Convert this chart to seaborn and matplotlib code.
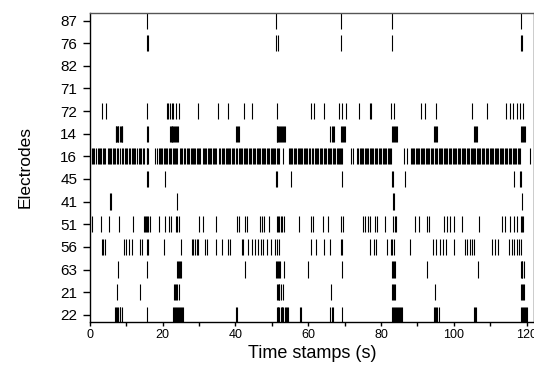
import numpy as np
import pandas as pd
import matplotlib
matplotlib.use('Agg')
import matplotlib.pyplot as plt
import seaborn as sns
from matplotlib.ticker import MultipleLocator

# eletrodos de cima para baixo
eletrodos = ['87', '76', '82', '71', '72', '14', '16', '45', '41', '51', '56', '63', '21', '22']

# tempos dos disparos (s)
e87 = [15.8, 51.1, 69.1, 83.0, 118.3]
e76 = [15.7, 16.0, 51.2, 51.7, 69.1, 83.0, 118.4, 118.6]
e82 = []
e71 = []
e72 = [3.4, 4.6, 15.8, 21.1, 21.6, 22.0, 22.5, 22.9, 23.6, 24.5, 29.8, 35.1, 37.9,
       42.4, 44.6, 51.3, 60.7, 61.5, 64.2, 68.4, 69.3, 70.3, 74.0, 77.0, 77.3, 82.6,
       83.5, 91.0, 92.2, 95.0, 105.0, 109.1, 114.4, 115.3, 116.2, 117.4, 118.2, 119.1]
e14 = [7.1, 7.3, 7.5, 7.7, 7.9, 8.4, 8.6, 8.8, 9.0, 15.7, 15.9,
       22.0, 22.2, 22.5, 22.7, 23.0, 23.2, 23.5, 23.7, 24.0, 24.2,
       40.1, 40.4, 40.7, 40.9,
       51.3, 51.5, 51.8, 52.0, 52.3, 52.5, 52.8, 53.0, 53.3, 53.5,
       66.1, 66.4, 66.7, 67.0, 69.0, 69.3, 69.6, 69.9, 70.1,
       83.0, 83.3, 83.6, 83.9, 84.2, 84.4, 94.6, 94.9, 95.2, 95.5,
       105.5, 105.8, 106.1, 106.4, 118.3, 118.6, 118.9, 119.2, 119.5]
e16 = [0.2, 0.6, 0.9, 1.3, 1.6, 2.2, 2.5, 2.8, 3.2, 3.6, 3.9, 4.3, 4.9, 5.2, 5.5,
       5.9, 6.3, 6.6, 7.0, 7.6, 7.9, 8.2, 8.9, 9.2, 9.6, 9.9, 10.3, 10.7, 11.2,
       11.5, 11.9, 12.2, 12.5, 12.9, 13.4, 13.7, 14.1, 14.5, 14.8,
       15.6, 15.8, 16.0, 17.8,
       18.5, 18.9, 19.2, 19.6, 19.9, 20.3, 20.7, 21.0, 21.3, 21.7, 22.0, 22.4, 22.8,
       23.1, 23.4, 23.8, 24.1, 24.7, 25.0, 25.4, 25.9, 26.2, 26.6, 26.9, 27.3, 27.7,
       28.0, 28.3, 28.7, 29.0, 29.4, 29.8, 30.1, 30.4, 31.0, 31.3, 31.7, 32.0, 32.4,
       32.8, 33.1, 33.4, 33.8, 34.1, 34.5, 34.8, 35.5, 35.8, 36.2, 36.5, 36.9, 37.3,
       37.6, 37.9, 38.3, 38.6, 39.0, 39.3, 39.6, 40.2, 40.5, 40.9, 41.2, 41.6, 41.9,
       42.3, 42.7, 43.0, 43.3, 43.7, 44.0, 44.4, 44.8, 45.1, 45.4, 45.8, 46.1, 46.5,
       46.8, 47.2, 47.5, 47.9, 48.2, 48.6, 48.9, 49.3, 49.7, 50.0, 50.3, 50.7, 51.0,
       51.3, 51.6, 51.9, 53.2,
       54.6, 54.9, 55.3, 55.6, 56.0, 56.3, 56.7, 57.1, 57.4, 57.7, 58.1, 58.4, 58.8,
       59.1, 59.5, 59.8, 60.2, 60.5, 61.1, 61.4, 61.8, 62.1, 62.5, 62.8, 63.2, 63.6,
       63.9, 64.2, 64.6, 64.9, 65.3, 65.6, 66.0, 66.3, 66.7, 67.0, 67.4, 67.8, 68.1,
       68.4, 68.8, 69.1, 69.3, 71.7, 72.4,
       73.4, 73.7, 74.1, 74.4, 74.8, 75.1, 75.5, 75.9, 76.2, 76.5, 76.9, 77.2, 77.6,
       77.9, 78.3, 78.6, 79.0, 79.4, 79.7, 80.0, 80.4, 80.7, 81.1, 81.4, 81.8, 82.1,
       82.5, 82.7, 86.2, 87.1,
       88.1, 88.4, 88.8, 89.1, 89.5, 89.9, 90.2, 90.5, 90.9, 91.2, 91.6, 91.9, 92.3,
       92.6, 93.0, 93.3, 93.7, 94.0, 94.4, 94.8, 95.1, 95.4, 95.8, 96.1, 96.5, 96.8,
       97.2, 97.5, 97.9, 98.2, 98.6, 98.9, 99.3, 99.7, 100.0, 100.3, 100.7, 101.0,
       101.4, 101.7, 102.1, 102.4, 102.8, 103.1, 103.5, 103.8, 104.2, 104.6, 104.9,
       105.2, 105.6, 105.9, 106.3, 106.6, 107.0, 107.3, 107.7, 108.0, 108.4, 108.7,
       109.1, 109.5, 109.8, 110.1, 110.5, 110.8, 111.2, 111.5, 111.9, 112.2, 112.6,
       112.9, 113.3, 113.6, 114.0, 114.4, 114.7, 115.0, 115.4, 115.7, 116.1, 116.4,
       116.8, 117.1, 117.5, 117.8, 118.1, 120.8]
e45 = [15.6, 15.9, 20.7, 51.1, 51.5, 55.2, 69.3, 83.0, 83.3, 86.7, 116.6, 118.1, 118.5]
e41 = [5.6, 5.9, 24.0, 83.3, 83.6, 118.7]
e51 = [0.7, 3.1, 5.3, 8.0, 12.0, 14.9, 15.2, 15.4, 15.8, 16.1, 16.5, 19.1, 20.8,
       21.8, 22.3, 23.6, 24.0, 24.5, 30.0, 31.2, 34.8, 40.4, 40.9, 42.6, 43.2, 46.8,
       47.2, 47.9, 49.3, 51.5, 51.8, 52.1, 52.5, 52.9, 53.4, 57.6, 60.8,
       61.3, 64.1, 65.3, 69.0, 69.5, 75.1, 75.7, 76.3, 77.1, 78.4, 78.9, 81.2,
       83.3, 83.7, 84.2, 89.4, 90.3, 92.6, 93.1, 97.2, 98.1, 99.0, 99.9, 102.2,
       106.8, 113.2, 114.0, 115.5, 116.4, 117.4, 118.3, 118.7, 119.1]
e56 = [3.3, 3.7, 4.3, 9.5, 10.1, 10.8, 11.5, 13.8, 14.4, 15.6, 16.0, 20.5, 25.0,
       28.0, 28.4, 28.9, 29.4, 29.8, 31.6, 32.1, 34.7, 36.2, 37.9, 38.5, 41.7, 42.2,
       43.5, 44.5, 45.4, 46.3, 47.0, 47.7, 48.6, 49.8, 51.0, 51.4, 51.9, 60.9,
       62.2, 64.2, 65.9, 69.0, 69.4, 77.1, 78.0, 78.7, 81.6, 82.7, 83.1, 83.5, 87.9,
       94.3, 95.2, 96.3, 97.0, 97.7, 100.1, 103.0, 103.6, 104.4, 105.0, 105.4,
       110.5, 111.2, 112.0, 115.1, 116.0, 116.6, 117.4, 117.8, 118.3]
e63 = [7.8, 15.8, 23.9, 24.2, 24.5, 24.8, 25.1, 42.6, 51.1, 51.4, 51.7, 52.0, 52.3,
       53.4, 60.0, 69.3, 83.0, 83.3, 83.6, 83.8, 92.6, 106.5, 118.3, 118.6, 118.8, 119.2]
e21 = [7.6, 13.8, 23.2, 23.5, 23.8, 24.0, 24.5, 51.3, 51.6, 51.9, 52.1, 52.6, 53.2,
       66.3, 83.0, 83.3, 83.6, 83.8, 94.9, 118.4, 118.7, 118.9, 119.3]
e22 = [7.0, 7.3, 7.6, 7.9, 8.2, 8.4, 8.9, 15.8,
       23.0, 23.2, 23.5, 23.8, 24.0, 24.3, 24.6, 24.9, 25.1, 25.4, 25.7,
       40.1, 40.4, 51.3, 51.6, 51.8, 52.1, 52.4, 52.7, 52.9, 53.2, 53.5, 53.8, 54.1, 54.4,
       57.7, 58.0, 66.1, 66.4, 66.7, 69.3,
       83.0, 83.3, 83.6, 83.9, 84.1, 84.4, 84.7, 85.0, 85.3, 85.6, 85.8,
       94.5, 94.8, 95.1, 95.4, 95.8, 105.5, 105.8, 106.2,
       118.3, 118.6, 118.9, 119.2, 119.4, 119.7, 120.1]

disparos = [e87, e76, e82, e71, e72, e14, e16, e45, e41, e51, e56, e63, e21, e22]

sns.set_style('ticks')
plt.rcParams['font.family'] = ['Liberation Sans', 'DejaVu Sans']
plt.rcParams['text.color'] = 'black'
plt.rcParams['axes.labelcolor'] = 'black'
plt.rcParams['xtick.color'] = 'black'
plt.rcParams['ytick.color'] = 'black'

fig = plt.figure(figsize=(5.34, 3.72), dpi=100)
ax = fig.add_axes([0.168, 0.135, 0.832, 0.831])

# posicao vertical de cada linha (de cima para baixo)
posicoes = list(range(len(eletrodos) - 1, -1, -1))
for tempos, pos in zip(disparos, posicoes):
    if tempos:
        ax.eventplot(np.array(tempos), lineoffsets=pos, linelengths=0.72,
                     linewidths=0.8, colors='black')

ax.set_yticks(posicoes)
ax.set_yticklabels(eletrodos)
ax.set_ylim(-0.31, 13.35)
ax.set_xlim(0, 122)
ax.xaxis.set_major_locator(MultipleLocator(20))
ax.xaxis.set_minor_locator(MultipleLocator(10))

for lado in ['left', 'bottom', 'top', 'right']:
    ax.spines[lado].set_color('black')
    ax.spines[lado].set_linewidth(1.0)
ax.spines['top'].set_color('#555555')

ax.tick_params(axis='y', length=5, width=1, labelsize=11, color='black', pad=4)
ax.tick_params(axis='x', which='major', length=3, width=1, labelsize=9, pad=2)
ax.tick_params(axis='x', which='minor', length=3, width=1)

ax.set_xlabel('Time stamps (s)', fontsize=13, labelpad=3)
ax.set_ylabel('Electrodes', fontsize=12.5, labelpad=20)

fig.savefig('out.png', dpi=100)
